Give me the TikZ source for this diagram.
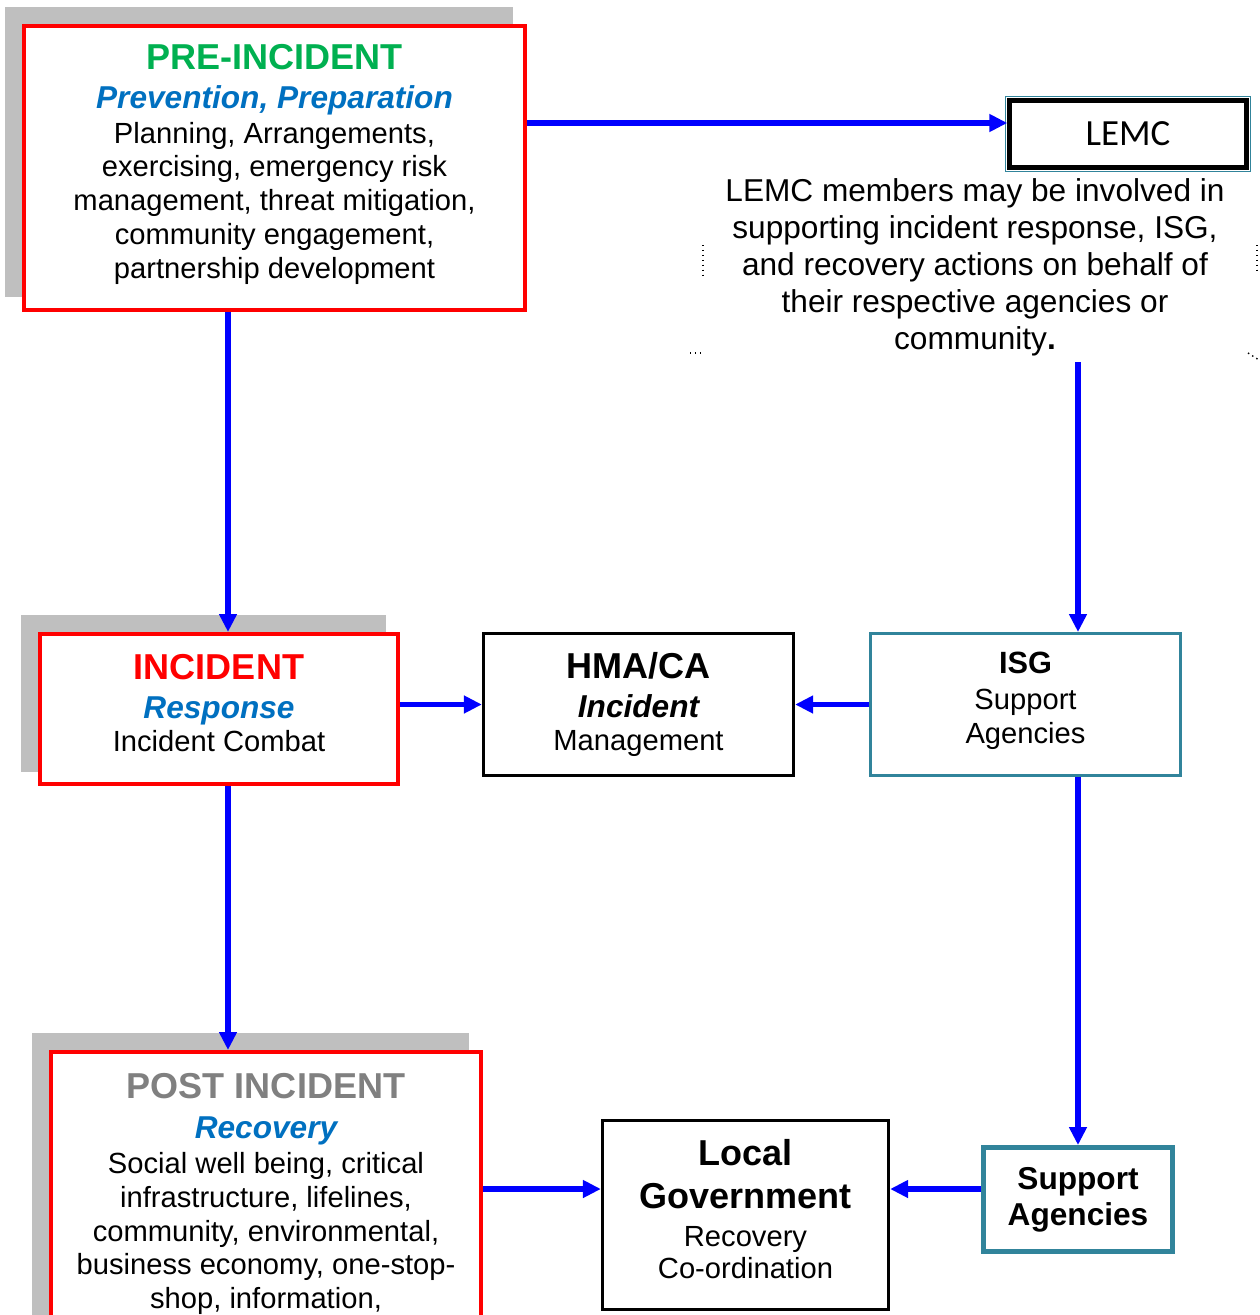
\documentclass[tikz,border=0pt]{standalone}
\usepackage{fontspec}
\setmainfont{Liberation Sans}
\newfontfamily\lemcfont{Carlito}
\usetikzlibrary{arrows.meta,shadows}

\definecolor{pregreen}{HTML}{00B050}
\definecolor{subblue}{HTML}{0070C0}
\definecolor{boxred}{HTML}{FF0000}
\definecolor{shadowgray}{HTML}{BFBFBF}
\definecolor{postgray}{HTML}{808080}
\definecolor{tealline}{HTML}{31849B}
\definecolor{arrowblue}{HTML}{0000FF}

\newcommand{\bigbold}{\fontsize{20.5}{24}\selectfont\bfseries}
\newcommand{\subital}{\fontsize{18}{21}\selectfont\bfseries\itshape}
\newcommand{\bodysize}{\fontsize{16.6}{19.2}\selectfont}

\begin{document}
\begin{tikzpicture}[x=0.02cm, y=-0.02cm]

    \useasboundingbox (0,0) rectangle (1259,1315);
    \clip (0,0) rectangle (1259,1315);

    \coordinate (topbus) at (0,123); % level of the arrow to LEMC
    \coordinate (leftbus) at (228,0); % column of the phase arrows
    \coordinate (lowbus) at (0,1189); % level of the recovery arrows

    \begin{scope}[every node/.style={rectangle,draw=boxred,line width=2.3pt,fill=white,align=center,font=\bodysize,
        drop shadow={shadow xshift=-0.31cm,shadow yshift=0.32cm,fill=shadowgray,draw=shadowgray,line width=4pt,opacity=1}}]
        \node[minimum width=10.02cm,minimum height=5.68cm] (pre) at (274.5,168) {{\bigbold\color{pregreen}PRE-INCIDENT}\\[3pt]
            {\subital\color{subblue}Prevention, Preparation}\\[0.6pt]
            Planning, Arrangements,\\ exercising, emergency risk\\ management, threat mitigation,\\ community engagement,\\ partnership development\\[-11.3pt]}; % Pre-incident phase
        \node[minimum width=7.16cm,minimum height=3.0cm] (inc) at (219,709) {{\bigbold\color{boxred}INCIDENT}\\[3pt]
            {\subital\color{subblue}Response}\\[-0.4pt]
            Incident Combat\\[-11.9pt]}; % Incident phase
        \node[minimum width=8.6cm,minimum height=5.68cm] (post) at (266,1194) {{\bigbold\color{postgray}POST INCIDENT}\\[3.6pt]
            {\subital\color{subblue}Recovery}\\[0.8pt]
            Social well being, critical\\ infrastructure, lifelines,\\ community, environmental,\\ business economy, one-stop-\\ shop, information,}; % Post-incident phase
    \end{scope}

    \begin{scope}[every node/.style={rectangle,draw=black,line width=1.9pt,fill=white,align=center,font=\bodysize}]
        \node[minimum width=6.2cm,minimum height=2.84cm] (hma) at (638.5,704.5) {{\bigbold HMA/CA}\\[3pt]
            {\subital Incident}\\[-0.4pt]
            Management};
        \node[minimum width=5.72cm,minimum height=3.78cm] (lg) at (745.5,1215) {{\bigbold Local}\\[5pt]
            {\bigbold Government}\\[2.4pt]
            Recovery\\[-1pt]
            Co-ordination\\[-12.5pt]};
        \node[line width=2.5pt,minimum width=4.74cm,minimum height=1.34cm] (lemc) at (1128,134) {\lemcfont\fontsize{21}{24}\selectfont LEMC};
    \end{scope}

    \draw[tealline,line width=0.6pt] ([shift={(-2,-2)}]lemc.north west) rectangle ([shift={(2,2)}]lemc.south east);

    \begin{scope}[every node/.style={rectangle,draw=tealline,fill=white,align=center,font=\bodysize}]
        \node[line width=1.7pt,minimum width=6.2cm,minimum height=2.84cm] (isg) at (1025.5,704.5) {{\fontsize{17.5}{21}\selectfont\bfseries ISG}\\[0.8pt]
            Support\\[0.6pt] Agencies\\[-12pt]};
        \node[line width=2.8pt,minimum width=3.78cm,minimum height=2.08cm] (sa) at (1078,1199.5) {{\fontsize{18}{21}\selectfont\bfseries Support}\\[1.3pt]
            {\fontsize{18}{21}\selectfont\bfseries Agencies}};
    \end{scope}

    \node[align=center,font=\fontsize{18}{21}\selectfont] (lemctext) at (975,267.5) {LEMC members may be involved in\\ supporting incident response, ISG,\\ and recovery actions on behalf of\\ their respective agencies or\\ community\textbf{.}};

    % leftover dots of the text frame
    \draw[dotted,line width=0.8pt] (703,245) -- (703,277);
    \draw[dotted,line width=0.8pt] (1257,245) -- (1257,272);
    \draw[dotted,line width=0.8pt] (690,353) -- (700,353);
    \draw[dotted,line width=0.8pt] (1248,353) -- (1259,360);

    \begin{scope}[>={Triangle[length=0.36cm,width=0.34cm]}, every edge/.style={draw=arrowblue,line width=2.9pt}]
        \path [->] (pre.east |- topbus) edge (lemc.west |- topbus);
        \path [->] (pre.south -| leftbus) edge (inc.north -| leftbus);
        \path [->] (inc.east |- hma.west) edge (hma.west);
        \path [->] (isg.west) edge (hma.east);
        \path [->] (lemctext.south -| sa.north) edge (isg.north -| sa.north);
        \path [->] (isg.south -| sa.north) edge (sa.north);
        \path [->] (inc.south -| leftbus) edge (post.north -| leftbus);
        \path [->] (post.east |- lowbus) edge (lg.west |- lowbus);
        \path [->] (sa.west |- lowbus) edge (lg.east |- lowbus);
    \end{scope}

\end{tikzpicture}
\end{document}
